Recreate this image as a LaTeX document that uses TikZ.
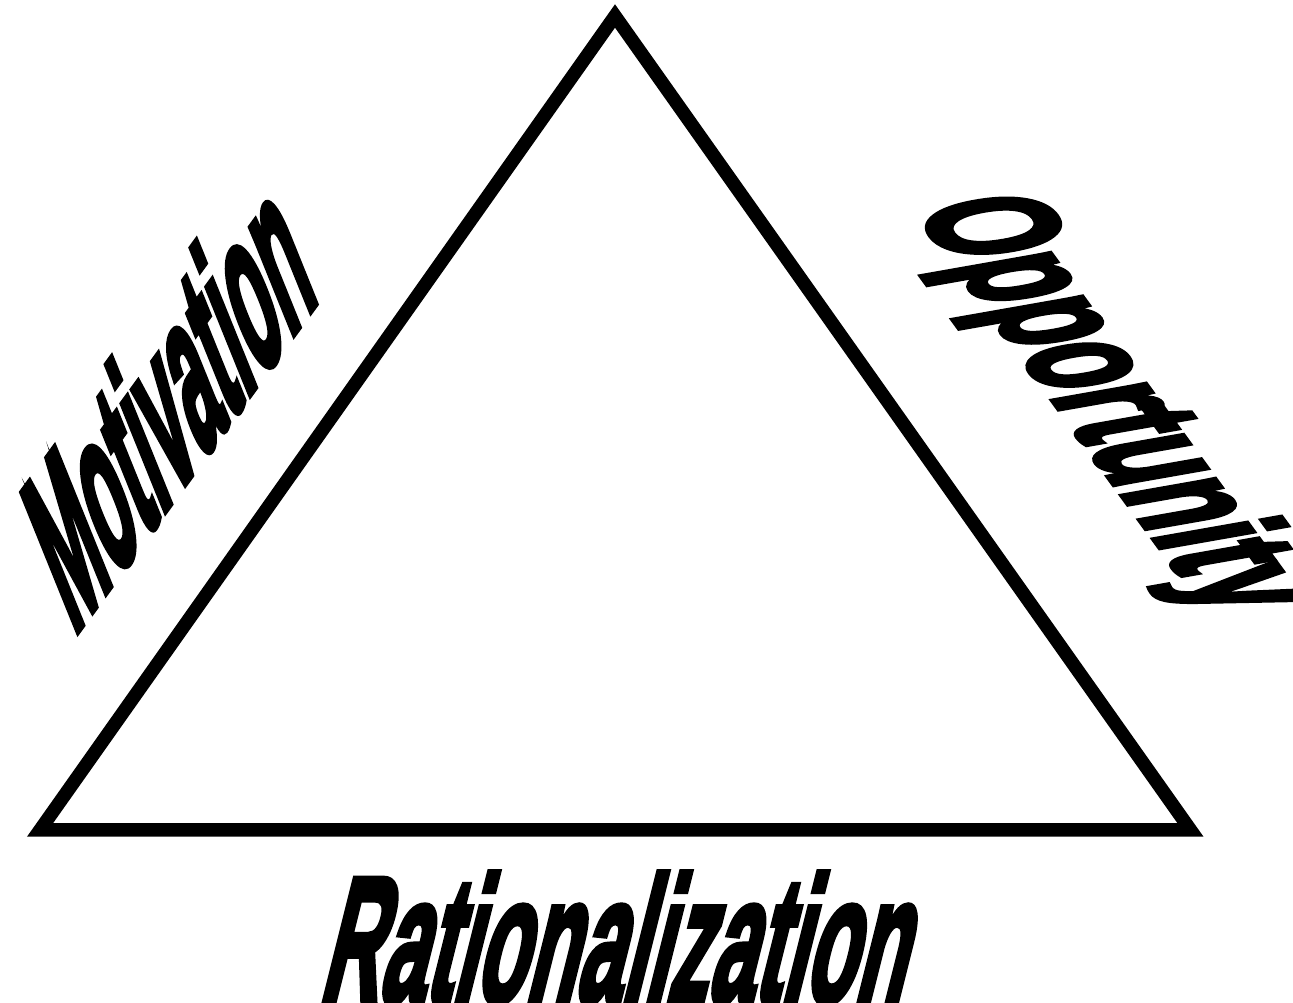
\documentclass[tikz,border=0pt]{standalone}
\usepackage{fontspec}
\setmainfont{Liberation Sans}[BoldFeatures={FakeBold=4}]
\begin{document}
\begin{tikzpicture}[line join=miter,
	word/.style={font=\bfseries\fontsize{20}{24}\selectfont, inner sep=0pt, anchor=base west}]
	\useasboundingbox (0,0) rectangle (12.93,10.03);
	\path
	(0.40,1.73) coordinate (A)
	(11.905,1.73) coordinate (B)
	(6.15,9.87) coordinate (C);
	\draw [line width=0.135cm] (A) -- (B) -- (C) -- cycle;
	% sheared labels along the three sides
	\node[word, cm={0.700,0.963,-1.146,2.837,(0,0)}] (mot) at (0.73,3.66) {Motivation};
	\node[word, cm={0.74,-1.015,2.47,0.435,(0,0)}] (opp) at (9.13,7.95) {Opportunity};
	\node[word, cm={1.17,0,0.635,2.54,(0,0)}] (rat) at (3.17,0.01) {Rationalization};
\end{tikzpicture}
\end{document}
